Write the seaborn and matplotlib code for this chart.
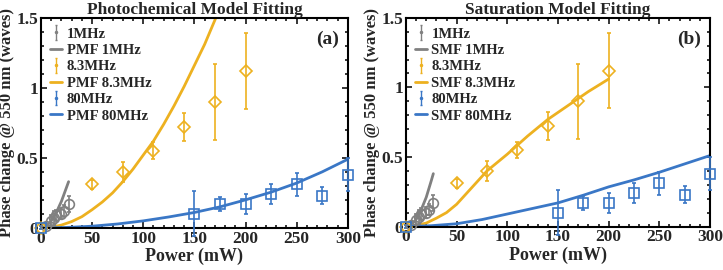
import numpy as np
import pandas as pd
import matplotlib
matplotlib.use("Agg")
import matplotlib.pyplot as plt
from matplotlib.ticker import MultipleLocator
import seaborn as sns

# measured data
p_1mhz = [5, 10, 12.5, 15, 20, 22.5, 27]
ph_1mhz = [0.01, 0.05, 0.07, 0.09, 0.10, 0.12, 0.17]
err_1mhz = [0.02, 0.04, 0.05, 0.04, 0.04, 0.04, 0.06]

p_8mhz = [0, 50, 80, 110, 140, 170, 200]
ph_8mhz = [0.0, 0.31, 0.40, 0.55, 0.72, 0.90, 1.12]
err_8mhz = [0.01, 0.03, 0.07, 0.06, 0.10, 0.27, 0.27]

p_80mhz = [0, 150, 175, 200, 225, 250, 275, 300]
ph_80mhz = [0.0, 0.10, 0.17, 0.17, 0.24, 0.31, 0.23, 0.38]
err_80mhz = [0.01, 0.16, 0.05, 0.07, 0.07, 0.08, 0.06, 0.12]

# photochemical model fits
pmf_1_x = [0, 5, 10, 15, 20, 25, 27]
pmf_1_y = [0.0, 0.01, 0.05, 0.11, 0.19, 0.29, 0.33]
pmf_8_x = [0, 10, 20, 30, 40, 50, 60, 70, 80, 90, 100, 110, 120, 130,
           140, 150, 160, 171]
pmf_8_y = [0.0, 0.005, 0.02, 0.045, 0.08, 0.13, 0.185, 0.25, 0.33, 0.42,
           0.52, 0.62, 0.74, 0.87, 1.01, 1.16, 1.31, 1.50]
pmf_80_x = [0, 25, 50, 75, 100, 125, 150, 175, 200, 225, 250, 275, 300]
pmf_80_y = [0.0, 0.003, 0.012, 0.028, 0.05, 0.078, 0.11, 0.15, 0.20,
            0.255, 0.32, 0.40, 0.49]

# saturation model fits
smf_1_x = [0, 5, 10, 15, 20, 25, 27]
smf_1_y = [0.0, 0.01, 0.05, 0.12, 0.21, 0.33, 0.38]
smf_8_x = [0, 10, 20, 30, 40, 50, 60, 70, 80, 90, 100, 110, 120, 130,
           140, 150, 160, 170, 180, 190, 200]
smf_8_y = [0.0, 0.007, 0.025, 0.06, 0.10, 0.16, 0.24, 0.32, 0.40, 0.46,
           0.52, 0.585, 0.65, 0.71, 0.77, 0.82, 0.87, 0.92, 0.97, 1.015, 1.06]
smf_80_x = [0, 25, 50, 75, 100, 125, 150, 175, 200, 225, 250, 275, 300]
smf_80_y = [0.0, 0.006, 0.02, 0.05, 0.09, 0.13, 0.17, 0.225, 0.285,
            0.335, 0.39, 0.45, 0.51]

GRAY = "#808080"
GOLD = "#EDB120"
BLUE = "#3A77C6"

sns.set_theme(style="ticks")
plt.rcParams["font.family"] = ["Liberation Serif", "DejaVu Serif"]
plt.rcParams["font.weight"] = "bold"
plt.rcParams["axes.labelweight"] = "bold"
plt.rcParams["axes.titleweight"] = "bold"

fig = plt.figure(figsize=(7.23, 2.70), dpi=100)
ax1 = fig.add_axes([0.0567, 0.156, 0.4243, 0.778])
ax2 = fig.add_axes([0.5615, 0.161, 0.4205, 0.773])


def draw(ax, fits, tag, title, letter):
    series = [
        ("1MHz", p_1mhz, ph_1mhz, err_1mhz, "o", GRAY, 7),
        ("8.3MHz", p_8mhz, ph_8mhz, err_8mhz, "D", GOLD, 6.5),
        ("80MHz", p_80mhz, ph_80mhz, err_80mhz, "s", BLUE, 7),
    ]
    handles, labels = [], []
    for (name, x, y, e, mk, c, ms), (fx, fy) in zip(series, fits):
        ax.errorbar(x, y, yerr=e, fmt=mk, mfc="none", mec=c, ecolor=c,
                    ms=ms, mew=1.2, elinewidth=1.2, capsize=1.5, zorder=3,
                    clip_on=False)
        fit = pd.DataFrame({"x": fx, "y": fy})
        sns.lineplot(data=fit, x="x", y="y", color=c, lw=2, ax=ax, zorder=2)
        h = ax.errorbar([np.nan], [np.nan], yerr=[1], fmt=".", color=c,
                        ms=3, elinewidth=1, capsize=1)
        handles += [h, plt.Line2D([], [], color=c, lw=2)]
        labels += [name, f"{tag} {name}"]
    ax.legend(handles, labels, loc="upper left", frameon=False,
              handlelength=0.8, handletextpad=0.3, labelspacing=0.22,
              borderaxespad=0.25, prop={"size": 10.5, "weight": "bold"})
    ax.set_xlim(0, 300)
    ax.set_ylim(0, 1.5)
    ax.xaxis.set_major_locator(MultipleLocator(50))
    ax.xaxis.set_minor_locator(MultipleLocator(10))
    ax.yaxis.set_major_locator(MultipleLocator(0.5))
    ax.yaxis.set_minor_locator(MultipleLocator(0.1))
    ax.set_yticks([0, 0.5, 1, 1.5], ["0", "0.5", "1", "1.5"])
    ax.tick_params(which="both", direction="in", top=True, right=True,
                   width=1.3, labelsize=12.5, pad=2)
    ax.tick_params(which="major", length=4)
    ax.tick_params(which="minor", length=2.5)
    for s in ax.spines.values():
        s.set_linewidth(1.5)
        s.set_color("black")
    ax.set_xlabel("Power (mW)", fontsize=13, labelpad=1)
    ax.set_ylabel("Phase change @ 550 nm (waves)", fontsize=12, labelpad=1)
    ax.set_title(title, fontsize=12.5, pad=2)
    ax.text(0.97, 0.94, letter, transform=ax.transAxes, ha="right", va="top",
            fontsize=14, fontweight="bold")


draw(ax1, [(pmf_1_x, pmf_1_y), (pmf_8_x, pmf_8_y), (pmf_80_x, pmf_80_y)],
     "PMF", "Photochemical Model Fitting", "(a)")
draw(ax2, [(smf_1_x, smf_1_y), (smf_8_x, smf_8_y), (smf_80_x, smf_80_y)],
     "SMF", "Saturation Model Fitting", "(b)")

fig.savefig("out.png", dpi=100)
